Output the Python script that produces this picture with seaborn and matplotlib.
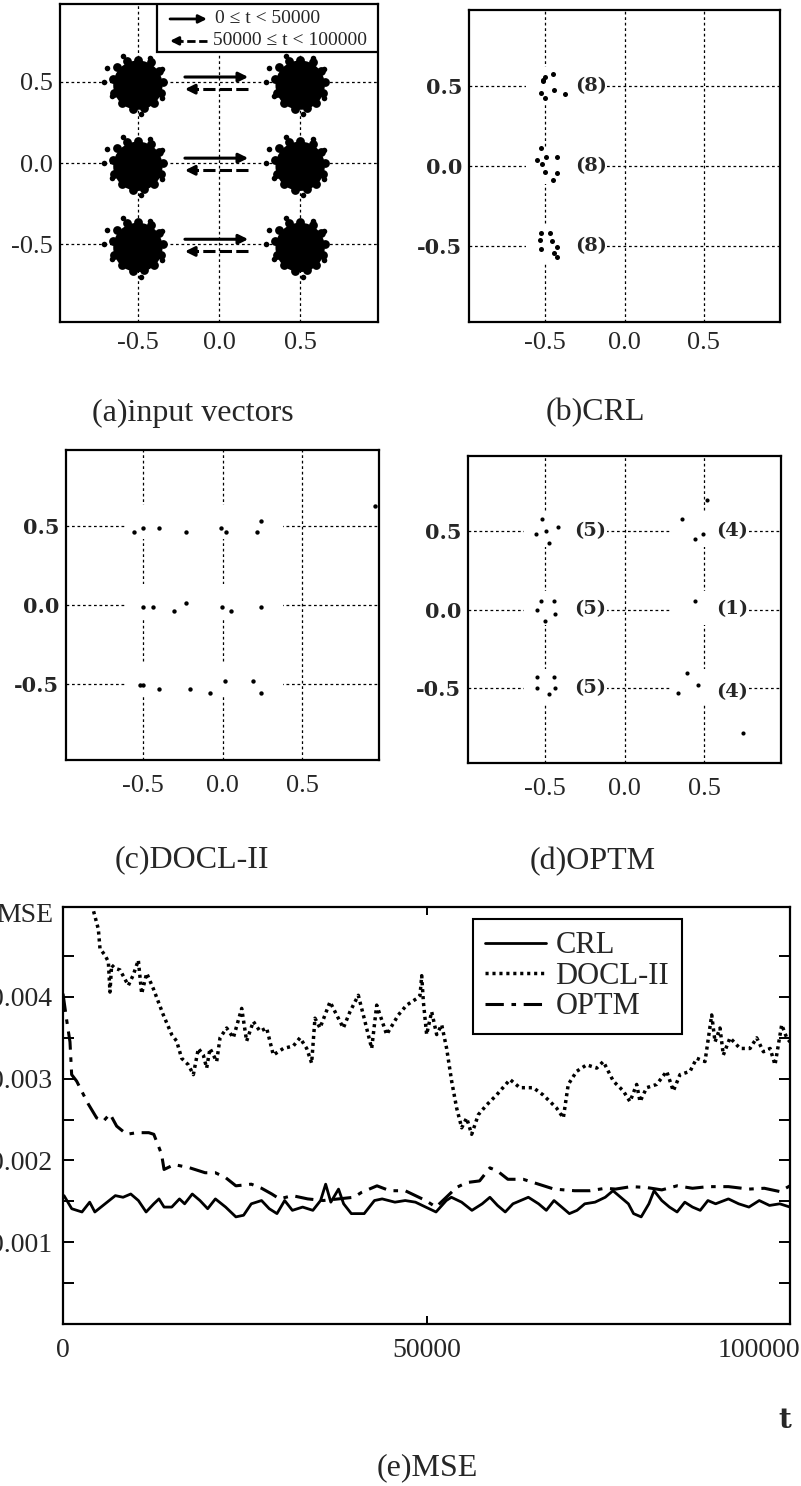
import matplotlib
matplotlib.use("Agg")
import matplotlib.pyplot as plt
import matplotlib.transforms as mtransforms
from matplotlib.patches import Rectangle, Circle
import pandas as pd
import seaborn as sns

# ---------------- data ----------------
# (a) input vectors: cluster centres, blob spread, blob outline bumps and stray samples
CLUSTER_X = [-0.5, -0.5, -0.5, 0.5, 0.5, 0.5]
CLUSTER_Y = [0.5, 0.0, -0.5, 0.5, 0.0, -0.5]
CLUSTER_RADIUS = 0.152
BUMP_DX = [-0.13, -0.07, 0.0, 0.08, 0.13, 0.155, 0.14, 0.10, 0.04, -0.03, -0.10, -0.145, -0.155]
BUMP_DY = [0.09, 0.13, 0.135, 0.12, 0.07, 0.0, -0.07, -0.13, -0.16, -0.165, -0.13, -0.07, 0.02]
STRAY_DX = [-0.19, 0.077, 0.15, -0.21, -0.16, 0.15, 0.02, -0.09]
STRAY_DY = [0.085, 0.145, 0.08, 0.0, -0.09, -0.10, -0.20, 0.16]
ROWS = [0.5, 0.0, -0.5]

# (b) CRL weight vectors
CRL_X = [-0.500, -0.511, -0.450, -0.446, -0.526, -0.500, -0.374, -0.515,
         -0.526, -0.554, -0.493, -0.424, -0.520, -0.498, -0.428, -0.450,
         -0.526, -0.472, -0.530, -0.454, -0.526, -0.428, -0.446, -0.428]
CRL_Y = [0.559, 0.534, 0.580, 0.479, 0.460, 0.428, 0.454, 0.543,
         0.112, 0.038, 0.059, 0.059, 0.013, -0.036, -0.042, -0.088,
         -0.420, -0.420, -0.462, -0.473, -0.519, -0.511, -0.546, -0.574]
CRL_COUNTS = ["(8)", "(8)", "(8)"]

# (c) DOCL-II weight vectors
DOCL_X = [-0.553, -0.500, -0.398, -0.228, -0.011, 0.021, 0.213, 0.240, 0.953,
          -0.500, -0.436, -0.304, -0.228, -0.006, 0.055, 0.238,
          -0.517, -0.500, -0.398, -0.206, -0.081, 0.015, 0.191, 0.238]
DOCL_Y = [0.461, 0.489, 0.489, 0.461, 0.489, 0.461, 0.461, 0.532, 0.629,
          -0.013, -0.013, -0.039, 0.015, -0.013, -0.039, -0.013,
          -0.506, -0.506, -0.532, -0.532, -0.557, -0.482, -0.482, -0.557]

# (d) OPTM weight vectors
OPTM_X = [-0.517, -0.553, -0.489, -0.417, -0.470,
          -0.523, -0.443, -0.549, -0.438, -0.496,
          -0.549, -0.443, -0.549, -0.438, -0.474,
          0.515, 0.362, 0.440, 0.494,
          0.440,
          0.391, 0.462, 0.338, 0.742]
OPTM_Y = [0.577, 0.479, 0.500, 0.528, 0.427,
          0.056, 0.056, 0.000, -0.026, -0.073,
          -0.431, -0.431, -0.500, -0.500, -0.539,
          0.699, 0.577, 0.453, 0.479,
          0.056,
          -0.408, -0.479, -0.532, -0.787]
OPTM_LEFT_COUNTS = ["(5)", "(5)", "(5)"]
OPTM_RIGHT_COUNTS = ["(4)", "(1)", "(4)"]

# (e) MSE versus t
T_CRL = [140, 1200, 2610, 3670, 4380, 5790, 7200, 8260, 9320, 10370,
         11430, 12490, 13200, 13900, 14960, 16020, 16730, 17780, 18840, 19900,
         20960, 22370, 23780, 24840, 25900, 27310, 28370, 29430, 30490, 31550,
         32960, 34370, 35430, 36130, 36840, 37900, 38600, 39660, 41430, 42840,
         43900, 45660, 47070, 48480, 49890, 51310, 52720, 53420, 54830, 56250,
         57660, 58720, 59770, 60830, 61890, 62950, 64010, 65420, 66480, 67540,
         68600, 69650, 70710, 71770, 73180, 74590, 75650, 76710, 77770, 78480,
         79530, 80590, 81300, 82360, 83420, 84470, 85530, 86590, 87650, 88710,
         89770, 91530, 92940, 94350, 95770, 97180, 98590, 100000]
MSE_CRL = [0.00157, 0.00141, 0.00137, 0.00149, 0.00137, 0.00147, 0.00157, 0.00155, 0.00159, 0.00151,
           0.00137, 0.00147, 0.00153, 0.00143, 0.00143, 0.00153, 0.00147, 0.00159, 0.00151, 0.00141,
           0.00153, 0.00143, 0.00131, 0.00133, 0.00147, 0.00151, 0.00141, 0.00135, 0.00151, 0.00139,
           0.00143, 0.00139, 0.00151, 0.00171, 0.00149, 0.00165, 0.00147, 0.00135, 0.00135, 0.00151,
           0.00153, 0.00149, 0.00151, 0.00149, 0.00143, 0.00137, 0.00151, 0.00155, 0.00149, 0.00139,
           0.00147, 0.00155, 0.00145, 0.00137, 0.00147, 0.00151, 0.00155, 0.00147, 0.00139, 0.00151,
           0.00143, 0.00135, 0.00139, 0.00147, 0.00149, 0.00155, 0.00163, 0.00155, 0.00147, 0.00135,
           0.00131, 0.00147, 0.00163, 0.00151, 0.00143, 0.00137, 0.00149, 0.00143, 0.00139, 0.00151,
           0.00147, 0.00153, 0.00147, 0.00143, 0.00151, 0.00145, 0.00147, 0.00143]

T_DOCL = [3800, 4170, 4860, 5090, 5780, 6240, 6460, 6690, 7150, 7840,
          8990, 9670, 10360, 10820, 11510, 12430, 13800, 14950, 15630, 16320,
          17240, 17930, 18620, 19300, 19760, 20220, 21140, 21600, 22510, 23430,
          24580, 25260, 26180, 27100, 28010, 28930, 30310, 31680, 32600, 33520,
          34200, 34660, 35350, 36730, 37640, 38560, 39480, 40620, 41310, 42460,
          43150, 44520, 46130, 47270, 48650, 49110, 49340, 49570, 50020, 50710,
          51400, 52090, 52770, 53460, 54150, 54840, 55520, 56210, 57130, 58280,
          59630, 61490, 62840, 64690, 66060, 66990, 67900, 68820, 69500, 70650,
          72030, 73410, 74320, 75700, 77070, 77990, 78910, 79370, 80280, 81660,
          83040, 83950, 84870, 86250, 87160, 88310, 89230, 89690, 90370, 90830,
          91750, 93130, 94500, 95420, 96340, 97260, 97940, 98860, 99550, 100000]
MSE_DOCL = [0.0053, 0.00506, 0.00483, 0.00459, 0.00451, 0.00443, 0.00406, 0.00439, 0.00435, 0.00433,
            0.00414, 0.00427, 0.00445, 0.00404, 0.00429, 0.00410, 0.00378, 0.00354, 0.00346, 0.00325,
            0.00317, 0.00305, 0.00337, 0.00329, 0.00313, 0.00337, 0.00321, 0.00350, 0.00362, 0.00350,
            0.00386, 0.00346, 0.00370, 0.00358, 0.00362, 0.00329, 0.00337, 0.00340, 0.00350, 0.00337,
            0.00319, 0.00374, 0.00362, 0.00394, 0.00378, 0.00362, 0.00382, 0.00402, 0.00378, 0.00337,
            0.00390, 0.00354, 0.00378, 0.00390, 0.00398, 0.00402, 0.00426, 0.00394, 0.00354, 0.00382,
            0.00354, 0.00366, 0.00337, 0.00297, 0.00264, 0.00240, 0.00252, 0.00232, 0.00256, 0.00268,
            0.00280, 0.00299, 0.00289, 0.00289, 0.00280, 0.00272, 0.00264, 0.00252, 0.00293, 0.00309,
            0.00317, 0.00313, 0.00321, 0.00297, 0.00285, 0.00272, 0.00293, 0.00272, 0.00289, 0.00293,
            0.00309, 0.00285, 0.00305, 0.00309, 0.00325, 0.00321, 0.00378, 0.00345, 0.00362, 0.00329,
            0.00350, 0.00337, 0.00337, 0.00350, 0.00333, 0.00337, 0.00317, 0.00366, 0.00350, 0.00345]

T_OPTM = [0, 500, 960, 1190, 1880, 2790, 3480, 4630, 5550, 6460,
          7380, 8760, 10140, 11790, 12490, 13550, 13900, 15310, 17430, 19550,
          20960, 22370, 23780, 25900, 27310, 28720, 29780, 31550, 33660, 35780,
          37900, 40010, 41070, 43190, 44950, 47070, 48480, 49890, 51310, 52720,
          54130, 55540, 57300, 58720, 59770, 61190, 63300, 65420, 67540, 70360,
          72480, 74590, 76010, 78120, 80240, 82360, 84470, 86590, 88710, 91530,
          94350, 96470, 98590, 100000]
MSE_OPTM = [0.00404, 0.00372, 0.00345, 0.00305, 0.00297, 0.00281, 0.00269, 0.00252, 0.00248, 0.00257,
            0.00242, 0.00232, 0.00234, 0.00234, 0.00232, 0.00208, 0.00189, 0.00195, 0.00191, 0.00185,
            0.00185, 0.00179, 0.00169, 0.00171, 0.00166, 0.00159, 0.00153, 0.00157, 0.00153, 0.00151,
            0.00153, 0.00155, 0.00161, 0.00169, 0.00163, 0.00163, 0.00157, 0.00151, 0.00143, 0.00155,
            0.00167, 0.00173, 0.00175, 0.00191, 0.00187, 0.00177, 0.00177, 0.00171, 0.00165, 0.00163,
            0.00163, 0.00166, 0.00165, 0.00168, 0.00167, 0.00164, 0.00169, 0.00166, 0.00168, 0.00168,
            0.00165, 0.00166, 0.00162, 0.00169]

GRID_TICKS = [-0.5, 0.0, 0.5]
GRID_LABELS = ["-0.5", "0.0", "0.5"]
MSE_YTICKS = [0.001, 0.002, 0.003, 0.004]
MSE_YLABELS = ["0.001", "0.002", "0.003", "0.004"]
MSE_XTICKS = [0, 50000, 100000]
MSE_XLABELS = ["0", "50000", "100000"]

# ---------------- style ----------------
sns.set_theme(style="white")
plt.rcParams["font.family"] = ["Liberation Serif", "DejaVu Serif"]
plt.rcParams["axes.edgecolor"] = "black"
plt.rcParams["axes.linewidth"] = 1.6

SERIF = ["Liberation Serif", "DejaVu Serif"]
BOLD = ["DejaVu Serif"]
W, H = 801, 1486

fig = plt.figure(figsize=(W / 100, H / 100), dpi=100)
fig.patch.set_facecolor("white")


def add_ax(left, top, right, bottom):
    return fig.add_axes([left / W, 1 - bottom / H, (right - left) / W, (bottom - top) / H])


def style_scatter(ax, bold_y, xpad):
    ax.set_xlim(-0.98, 0.98)
    ax.set_ylim(-0.98, 0.98)
    ax.set_xticks(GRID_TICKS)
    ax.set_yticks(GRID_TICKS)
    ax.set_xticklabels(GRID_LABELS)
    ax.set_yticklabels(GRID_LABELS)
    ax.grid(True, color="black", lw=0.9, linestyle=(0, (2.2, 2.2)))
    ax.set_axisbelow(True)
    ax.tick_params(axis="both", length=0)
    ax.tick_params(axis="x", pad=xpad)
    ax.tick_params(axis="y", pad=5)
    for lab in ax.get_xticklabels():
        lab.set_family(SERIF)
        lab.set_fontsize(19)
    for lab in ax.get_yticklabels():
        if bold_y:
            lab.set_family(BOLD)
            lab.set_fontweight("bold")
            lab.set_fontsize(15)
        else:
            lab.set_family(SERIF)
            lab.set_fontsize(19)
    for sp in ax.spines.values():
        sp.set_linewidth(1.6)
        sp.set_color("black")
    ax.set_xlabel("")
    ax.set_ylabel("")


def mask(ax, x0, x1, y0, y1):
    ax.add_patch(Rectangle((x0, y0), x1 - x0, y1 - y0, facecolor="white",
                           edgecolor="none", zorder=1))


def count_label(ax, x, y, text):
    ax.text(x, y, text, ha="center", va="center", fontsize=14, fontweight="bold",
            family=BOLD, zorder=4)


# ---- (a) input vectors ----
ax_a = add_ax(60, 4, 378, 322)
for cx, cy in zip(CLUSTER_X, CLUSTER_Y):
    ax_a.add_patch(Circle((cx, cy - 0.02), CLUSTER_RADIUS, facecolor="black",
                          edgecolor="none", zorder=2))
    bumps = pd.DataFrame({"x": [cx + d for d in BUMP_DX], "y": [cy + d for d in BUMP_DY]})
    sns.scatterplot(data=bumps, x="x", y="y", ax=ax_a, color="black", s=40,
                    linewidth=0, zorder=2)
    strays = pd.DataFrame({"x": [cx + d for d in STRAY_DX], "y": [cy + d for d in STRAY_DY]})
    sns.scatterplot(data=strays, x="x", y="y", ax=ax_a, color="black", s=16,
                    linewidth=0, zorder=2)
style_scatter(ax_a, bold_y=False, xpad=7)

for r in ROWS:
    # forward movement (first half of training)
    ax_a.annotate("", xy=(0.18, r + 0.03), xytext=(-0.21, r + 0.03),
                  arrowprops=dict(arrowstyle="-|>", color="black", lw=2.2,
                                  mutation_scale=14, shrinkA=0, shrinkB=0), zorder=3)
    # backward movement (second half), dashed shaft
    ax_a.plot([0.18, -0.15], [r - 0.045, r - 0.045], color="black", lw=2.2,
              linestyle=(0, (4, 1.4)), zorder=3)
    ax_a.annotate("", xy=(-0.21, r - 0.045), xytext=(-0.16, r - 0.045),
                  arrowprops=dict(arrowstyle="-|>", color="black", lw=2.2,
                                  mutation_scale=14, shrinkA=0, shrinkB=0), zorder=3)

ax_a.add_patch(Rectangle((0.305, 0.849), 0.695, 0.151, transform=ax_a.transAxes,
                         facecolor="white", edgecolor="black", lw=1.6, zorder=4))
ax_a.annotate("", xy=(0.462, 0.953), xytext=(0.346, 0.953), xycoords="axes fraction",
              arrowprops=dict(arrowstyle="-|>", color="black", lw=2.0,
                              mutation_scale=12, shrinkA=0, shrinkB=0), zorder=5)
ax_a.plot([0.462, 0.375], [0.884, 0.884], transform=ax_a.transAxes, color="black",
          lw=2.0, linestyle=(0, (3, 1.3)), zorder=5)
ax_a.annotate("", xy=(0.346, 0.884), xytext=(0.38, 0.884), xycoords="axes fraction",
              arrowprops=dict(arrowstyle="-|>", color="black", lw=2.0,
                              mutation_scale=12, shrinkA=0, shrinkB=0), zorder=5)
ax_a.text(0.487, 0.953, "0 \u2264 t < 50000", transform=ax_a.transAxes, va="center",
          ha="left", fontsize=14, family=SERIF, zorder=6)
ax_a.text(0.481, 0.884, "50000 \u2264 t < 100000", transform=ax_a.transAxes, va="center",
          ha="left", fontsize=14, family=SERIF, zorder=6)

# ---- (b) CRL ----
ax_b = add_ax(469, 10, 780, 322)
for r, txt in zip(ROWS, CRL_COUNTS):
    mask(ax_b, -0.62, -0.12, r - 0.11, r + 0.12)
    count_label(ax_b, -0.21, r, txt)
sns.scatterplot(x=CRL_X, y=CRL_Y, ax=ax_b, color="black", s=13, linewidth=0, zorder=3)
style_scatter(ax_b, bold_y=True, xpad=7)

# ---- (c) DOCL-II ----
ax_c = add_ax(66, 450, 379, 760)
for r in ROWS:
    mask(ax_c, -0.61, 0.38, r - 0.08, r + 0.13)
sns.scatterplot(x=DOCL_X, y=DOCL_Y, ax=ax_c, color="black", s=10, linewidth=0, zorder=3)
style_scatter(ax_c, bold_y=True, xpad=11)

# ---- (d) OPTM ----
ax_d = add_ax(468, 456, 781, 763)
for r, lt, rt in zip(ROWS, OPTM_LEFT_COUNTS, OPTM_RIGHT_COUNTS):
    mask(ax_d, -0.63, -0.11, r - 0.10, r + 0.12)
    mask(ax_d, 0.30, 0.77, r - 0.10, r + 0.12)
    count_label(ax_d, -0.215, r, lt)
    count_label(ax_d, 0.674, r - (0.03 if r < 0 else 0.0), rt)
sns.scatterplot(x=OPTM_X, y=OPTM_Y, ax=ax_d, color="black", s=9, linewidth=0, zorder=3)
style_scatter(ax_d, bold_y=True, xpad=11)

# ---- (e) MSE ----
ax_e = add_ax(63, 907, 790, 1324)
sns.lineplot(x=T_CRL, y=MSE_CRL, ax=ax_e, color="black", lw=2.0, label="CRL",
             linestyle="-")
sns.lineplot(x=T_DOCL, y=MSE_DOCL, ax=ax_e, color="black", lw=2.5, label="DOCL-II",
             linestyle=(0, (0.9, 1.1)))
sns.lineplot(x=T_OPTM, y=MSE_OPTM, ax=ax_e, color="black", lw=2.2, label="OPTM",
             linestyle=(0, (6, 2.5, 1.5, 2.5)))
ax_e.set_xlim(0, 100000)
ax_e.set_ylim(0, 0.0051)
ax_e.set_xticks(MSE_XTICKS)
ax_e.set_xticklabels(MSE_XLABELS)
ax_e.set_yticks(MSE_YTICKS)
ax_e.set_yticklabels(MSE_YLABELS)
ax_e.set_yticks([0.0005, 0.0015, 0.0025, 0.0035, 0.0045], minor=True)
ax_e.tick_params(which="both", direction="in", left=True, right=True, top=True,
                 bottom=True, width=1.4, color="black")
ax_e.tick_params(axis="y", which="both", length=8, pad=8)
ax_e.tick_params(axis="x", which="both", length=6, pad=10)
for lab in ax_e.get_xticklabels() + ax_e.get_yticklabels():
    lab.set_family(SERIF)
    lab.set_fontsize(20)
last = ax_e.get_xticklabels()[-1]
last.set_ha("right")
last.set_transform(last.get_transform() + mtransforms.ScaledTranslation(0.10, 0, fig.dpi_scale_trans))
for sp in ax_e.spines.values():
    sp.set_linewidth(1.6)
    sp.set_color("black")
ax_e.set_xlabel("")
ax_e.set_ylabel("")
leg = ax_e.legend(loc="upper left", bbox_to_anchor=(0.564, 0.971), borderaxespad=0,
                  frameon=True, fancybox=False, edgecolor="black", framealpha=1,
                  prop={"family": SERIF, "size": 22}, handlelength=2.0,
                  labelspacing=0.05, handletextpad=0.3, borderpad=0.4)
leg.get_frame().set_linewidth(1.5)

fig.text(53 / W, 1 - 915 / H, "MSE", ha="right", va="center", fontsize=20, family=SERIF)
fig.text(785 / W, 1 - 1420 / H, "t", ha="center", va="center", fontsize=20,
         fontweight="bold", family=BOLD)

# ---- captions ----
cap = dict(ha="center", va="center", fontsize=23, family=SERIF)
fig.text(193 / W, 1 - 413 / H, "(a)input vectors", **cap)
fig.text(595 / W, 1 - 413 / H, "(b)CRL", **cap)
fig.text(192 / W, 1 - 860 / H, "(c)DOCL-II", **cap)
fig.text(593 / W, 1 - 862 / H, "(d)OPTM", **cap)
fig.text(427 / W, 1 - 1468 / H, "(e)MSE", **cap)

fig.savefig("out.png", dpi=100, facecolor="white")
